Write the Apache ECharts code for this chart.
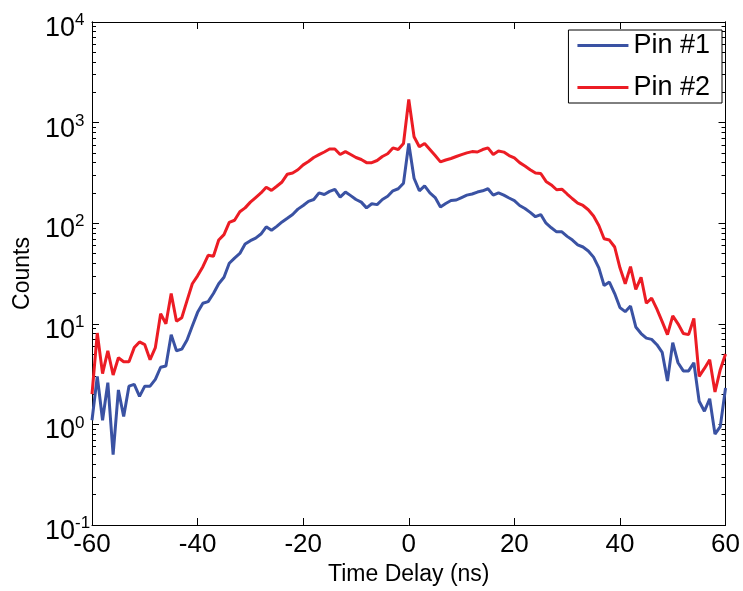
<!DOCTYPE html>
<html>
<head>
<meta charset="utf-8">
<script src="https://cdn.jsdelivr.net/npm/echarts@6/dist/echarts.min.js"></script>
<style>
  html, body { margin: 0; padding: 0; background: #fff; }
  #main { width: 743px; height: 591px; }
</style>
</head>
<body>
<div id="main"></div>
<script>
// time delay (ns), one bin per ns
var timeDelay = [
  -60, -59, -58, -57, -56, -55, -54, -53, -52, -51, -50, -49, -48, -47, -46, -45, -44, -43, -42, -41,
  -40, -39, -38, -37, -36, -35, -34, -33, -32, -31, -30, -29, -28, -27, -26, -25, -24, -23, -22, -21,
  -20, -19, -18, -17, -16, -15, -14, -13, -12, -11, -10, -9, -8, -7, -6, -5, -4, -3, -2, -1,
  0, 1, 2, 3, 4, 5, 6, 7, 8, 9, 10, 11, 12, 13, 14, 15, 16, 17, 18, 19,
  20, 21, 22, 23, 24, 25, 26, 27, 28, 29, 30, 31, 32, 33, 34, 35, 36, 37, 38, 39,
  40, 41, 42, 43, 44, 45, 46, 47, 48, 49, 50, 51, 52, 53, 54, 55, 56, 57, 58, 59, 60
];

var pin1 = [
  1.1, 3.0, 1.1, 2.6, 0.5, 2.2, 1.2, 2.4, 2.5, 1.9, 2.4, 2.4, 2.8, 3.7, 3.8, 7.8, 5.4, 5.6, 6.9, 9.5,
  13, 16, 16.6, 20, 25, 29, 40, 45, 50, 62, 67, 71, 78, 92, 85, 93, 103, 112, 122, 138,
  150, 165, 172, 200, 193, 207, 217, 182, 204, 188, 172, 162, 142, 156, 153, 172, 185, 210, 220, 250,
  620, 280, 210, 235, 200, 180, 145, 157, 168, 170, 180, 190, 195, 204, 210, 220, 190, 200, 190, 178,
  168, 150, 140, 128, 116, 122, 100, 90, 82, 82, 74, 68, 61, 58, 53, 46, 36, 24, 26, 20,
  14.5, 13.2, 15, 9.3, 8, 7.2, 7, 6.2, 5.2, 2.7, 6.5, 4.1, 3.4, 3.4, 4.1, 1.7, 1.35, 1.8, 0.8, 0.95, 2.3
];

var pin2 = [
  2.0, 8.1, 3.2, 5.4, 3.1, 4.6, 4.2, 4.2, 5.8, 6.6, 6.2, 4.4, 5.8, 12.6, 10, 20, 10.6, 11.5, 17, 25,
  30, 37, 48, 47, 68, 77, 102, 107, 130, 142, 162, 180, 200, 228, 212, 233, 257, 307, 316, 340,
  380, 410, 450, 480, 510, 546, 546, 482, 515, 482, 450, 430, 400, 400, 420, 460, 490, 560, 540, 620,
  1700, 724, 575, 620, 540, 470, 407, 425, 440, 460, 480, 500, 515, 510, 540, 560, 482, 521, 509, 470,
  445, 400, 370, 340, 315, 312, 260, 240, 215, 218, 195, 175, 158, 150, 136, 118, 95, 70, 68, 58,
  36, 25, 37, 22, 29, 16, 18, 14, 10.5, 7.8, 12, 10, 8, 7.8, 11.3, 3.0, 3.6, 4.4, 2.1, 3.5, 5.0
];

var seriesNames = ['Pin #1', 'Pin #2'];
var minorTicks = [
  0.2, 0.3, 0.4, 0.5, 0.6, 0.7, 0.8, 0.9,
  2, 3, 4, 5, 6, 7, 8, 9,
  20, 30, 40, 50, 60, 70, 80, 90,
  200, 300, 400, 500, 600, 700, 800, 900,
  2000, 3000, 4000, 5000, 6000, 7000, 8000, 9000
];

var font = '"Liberation Sans", Arial, sans-serif';

function pairs(ys) {
  var out = [];
  for (var i = 0; i < timeDelay.length; i++) out.push([timeDelay[i], ys[i]]);
  return out;
}

var chart = echarts.init(document.getElementById('main'));

var yBase = {
  type: 'log', logBase: 10, min: 0.1, max: 10000,
  gridIndex: 0,
  axisLine: { show: true, onZero: false, lineStyle: { color: '#000', width: 1 } },
  splitLine: { show: false }
};

var option = {
  backgroundColor: '#fff',
  animation: false,
  grid: { left: 92, right: 16, top: 22, bottom: 64, containLabel: false },
  legend: {
    data: seriesNames,
    orient: 'vertical',
    right: 21, top: 30,
    backgroundColor: '#fff',
    borderColor: '#000', borderWidth: 1,
    padding: [2, 12, 2, 9],
    itemGap: 15,
    itemWidth: 51, itemHeight: 3,
    icon: 'rect',
    textStyle: { fontFamily: font, fontSize: 27, color: '#000' }
  },
  xAxis: [{
    type: 'value', min: -60, max: 60, interval: 20,
    name: 'Time Delay (ns)', nameLocation: 'middle', nameGap: 38,
    nameTextStyle: { fontFamily: font, fontSize: 23, color: '#000' },
    axisLine: { show: true, onZero: false, lineStyle: { color: '#000', width: 1 } },
    axisTick: { show: true, inside: true, length: 7, lineStyle: { color: '#000' } },
    axisLabel: { fontFamily: font, fontSize: 26, color: '#000', margin: 7 },
    splitLine: { show: false }
  }, {
    type: 'value', min: -60, max: 60, interval: 20, position: 'top',
    axisLine: { show: true, onZero: false, lineStyle: { color: '#000', width: 1 } },
    axisTick: { show: true, inside: true, length: 7, lineStyle: { color: '#000' } },
    axisLabel: { show: false },
    splitLine: { show: false }
  }],
  yAxis: [
    Object.assign({}, yBase, {
      position: 'left',
      name: 'Counts', nameLocation: 'middle', nameGap: 58, nameRotate: 90,
      nameTextStyle: { fontFamily: font, fontSize: 23, color: '#000' },
      axisTick: { show: true, inside: true, length: 7, lineStyle: { color: '#000' } },
      axisLabel: {
        margin: 47,
        align: 'left',
        padding: [10, 0, 0, 0],
        formatter: function (v) {
          var e = Math.round(Math.log10(v));
          return '{b|10}{s|' + e + '}';
        },
        rich: {
          b: { fontFamily: font, fontSize: 27, color: '#000', verticalAlign: 'bottom' },
          s: { fontFamily: font, fontSize: 17, color: '#000', verticalAlign: 'bottom', padding: [0, 0, 13, 0] }
        }
      }
    }),
    Object.assign({}, yBase, {
      position: 'left',
      axisTick: { show: true, inside: true, length: 4, customValues: minorTicks, lineStyle: { color: '#000' } },
      axisLabel: { show: false }
    }),
    Object.assign({}, yBase, {
      position: 'right',
      axisTick: { show: true, inside: true, length: 7, lineStyle: { color: '#000' } },
      axisLabel: { show: false }
    }),
    Object.assign({}, yBase, {
      position: 'right',
      axisTick: { show: true, inside: true, length: 4, customValues: minorTicks, lineStyle: { color: '#000' } },
      axisLabel: { show: false }
    })
  ],
  series: [{
    name: seriesNames[0], type: 'line', symbol: 'none',
    xAxisIndex: 0, yAxisIndex: 0,
    lineStyle: { color: '#3a52a3', width: 3 },
    itemStyle: { color: '#3a52a3' },
    data: pairs(pin1)
  }, {
    name: seriesNames[1], type: 'line', symbol: 'none',
    xAxisIndex: 0, yAxisIndex: 0,
    lineStyle: { color: '#ec1c24', width: 3 },
    itemStyle: { color: '#ec1c24' },
    data: pairs(pin2)
  }]
};

chart.setOption(option);
</script>
</body>
</html>
